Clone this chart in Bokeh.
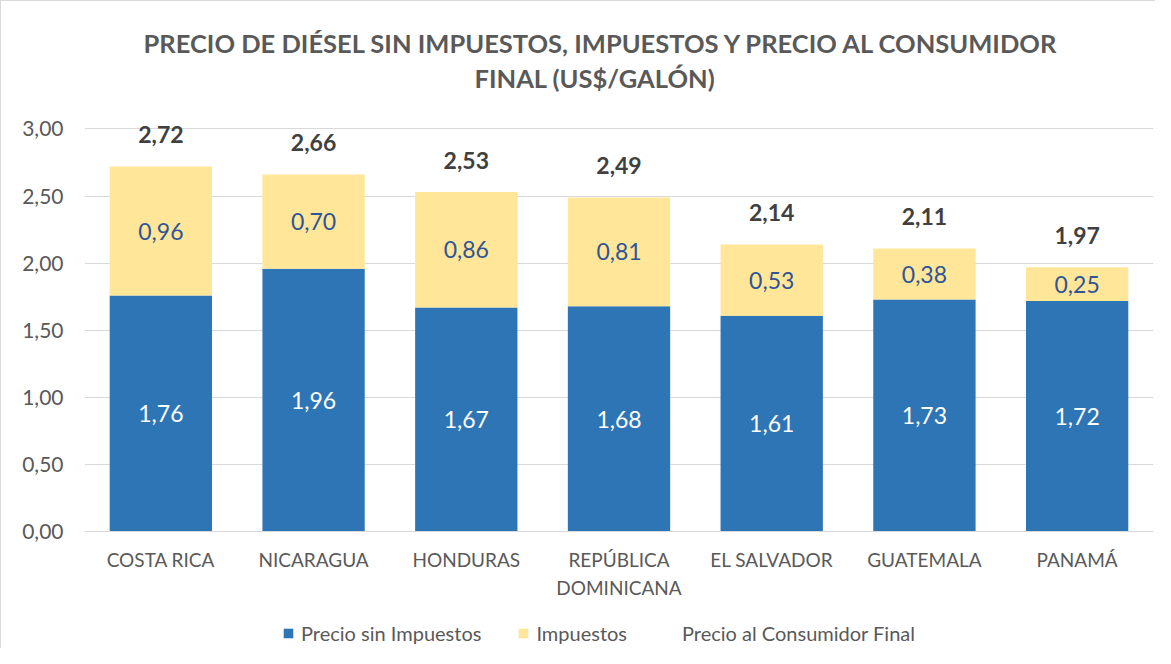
from bokeh.plotting import figure
from bokeh.models import (Range1d, FixedTicker, Title, Legend, LegendItem,
                          ColumnDataSource)
from bokeh.core.properties import value
from bokeh.embed import file_html
from bokeh.resources import INLINE

# ---- data ----
countries = ["COSTA RICA", "NICARAGUA", "HONDURAS", "REPÚBLICA\nDOMINICANA",
             "EL SALVADOR", "GUATEMALA", "PANAMÁ"]
precio_sin_impuestos = [1.76, 1.96, 1.67, 1.68, 1.61, 1.73, 1.72]
impuestos = [0.96, 0.70, 0.86, 0.81, 0.53, 0.38, 0.25]
precio_final = [2.72, 2.66, 2.53, 2.49, 2.14, 2.11, 1.97]
y_ticks = [0.0, 0.5, 1.0, 1.5, 2.0, 2.5, 3.0]
y_tick_labels = ["0,00", "0,50", "1,00", "1,50", "2,00", "2,50", "3,00"]
series_names = ["Precio sin Impuestos", "Impuestos", "Precio al Consumidor Final"]
title_lines = ["PRECIO DE DIÉSEL SIN IMPUESTOS, IMPUESTOS Y PRECIO AL CONSUMIDOR",
               "FINAL (US$/GALÓN)"]

BLUE = "#2E75B6"
YELLOW = "#FFE699"
GREY = "#595959"
FONT = "Lato"

def fmt(v):
    return f"{v:.2f}".replace(".", ",")

src = ColumnDataSource(dict(
    country=countries,
    base=precio_sin_impuestos,
    tax=impuestos,
    total=precio_final,
    base_mid=[b / 2 for b in precio_sin_impuestos],
    tax_mid=[b + t / 2 for b, t in zip(precio_sin_impuestos, impuestos)],
    base_lbl=[fmt(v) for v in precio_sin_impuestos],
    tax_lbl=[fmt(v) for v in impuestos],
    total_lbl=[fmt(v) for v in precio_final],
))

W, H = 1155, 648
# the frame reaches the bottom of the canvas; the category axis sits at y = 0
p = figure(x_range=countries, y_range=Range1d(-0.875, 3.1), width=W, height=H,
           output_backend="svg", toolbar_location=None,
           min_border_left=83, min_border_right=3, min_border_top=114,
           min_border_bottom=0,
           styles={"border-left": "1px solid #D9D9D9",
                   "border-top": "1px solid #D9D9D9"})
p.outline_line_color = None
p.background_fill_color = "white"

rs = p.vbar_stack(["base", "tax"], x="country", width=0.67, source=src,
                  color=[BLUE, YELLOW], line_color=None)
rline = p.line(x="country", y="total", source=src, line_alpha=0,
               line_width=2, line_color="#A5A5A5")

p.text(x="country", y="base_mid", text="base_lbl", source=src,
       text_align="center", text_baseline="middle", text_color="white",
       text_font=value(FONT), text_font_size="23px")
p.text(x="country", y="tax_mid", text="tax_lbl", source=src,
       text_align="center", text_baseline="middle", text_color="#2F5597",
       text_font=value(FONT), text_font_size="23px")
p.text(x="country", y="total", text="total_lbl", source=src,
       text_align="center", text_baseline="middle", text_color="#404040",
       text_font=value(FONT), text_font_size="23px", text_font_style="bold",
       y_offset=-32)

# axes
p.yaxis.ticker = FixedTicker(ticks=y_ticks)
p.yaxis.major_label_overrides = {t: l for t, l in zip(y_ticks, y_tick_labels)}
p.yaxis.axis_line_color = None
p.yaxis.major_tick_line_color = None
p.yaxis.minor_tick_line_color = None
p.yaxis.major_tick_out = 0
p.yaxis.major_tick_in = 0
p.yaxis.minor_tick_out = 0
p.yaxis.major_label_text_font = FONT
p.yaxis.major_label_text_font_size = "21px"
p.yaxis.major_label_text_color = GREY
p.yaxis.major_label_standoff = 21

p.xaxis.fixed_location = 0
p.xaxis.axis_line_color = "#D9D9D9"
p.xaxis.major_tick_line_color = None
p.xaxis.minor_tick_line_color = None
p.xaxis.major_tick_out = 0
p.xaxis.major_tick_in = 0
p.xaxis.major_label_text_font = FONT
p.xaxis.major_label_text_font_size = "19px"
p.xaxis.major_label_text_color = GREY
p.xaxis.major_label_standoff = 16
p.xaxis.major_label_text_line_height = 1.2

p.xgrid.grid_line_color = None
p.ygrid.grid_line_color = "#D9D9D9"
p.ygrid.ticker = FixedTicker(ticks=y_ticks)

# title: the first layout added sits closest to the plot
p.add_layout(Title(text=" ", text_font_size="1px", standoff=18), "above")
p.add_layout(Title(text=title_lines[1], align="left", offset=390, standoff=4,
                   text_font=FONT, text_font_size="25.5px", text_font_style="bold",
                   text_color=GREY), "above")
p.add_layout(Title(text=title_lines[0], align="left", offset=59, standoff=2,
                   text_font=FONT, text_font_size="25.5px", text_font_style="bold",
                   text_color=GREY), "above")

legend = Legend(items=[LegendItem(label=series_names[0], renderers=[rs[0]]),
                       LegendItem(label=series_names[1], renderers=[rs[1]]),
                       LegendItem(label=series_names[2], renderers=[rline])],
                orientation="horizontal", location=(198, 4),
                padding=0, margin=0, spacing=36, label_standoff=7,
                glyph_width=12, glyph_height=12, label_height=20,
                label_text_font=FONT, label_text_font_size="20px",
                label_text_color=GREY, border_line_color=None,
                background_fill_alpha=0)
p.add_layout(legend, "center")

open("out.html", "w").write(file_html(p, INLINE))
